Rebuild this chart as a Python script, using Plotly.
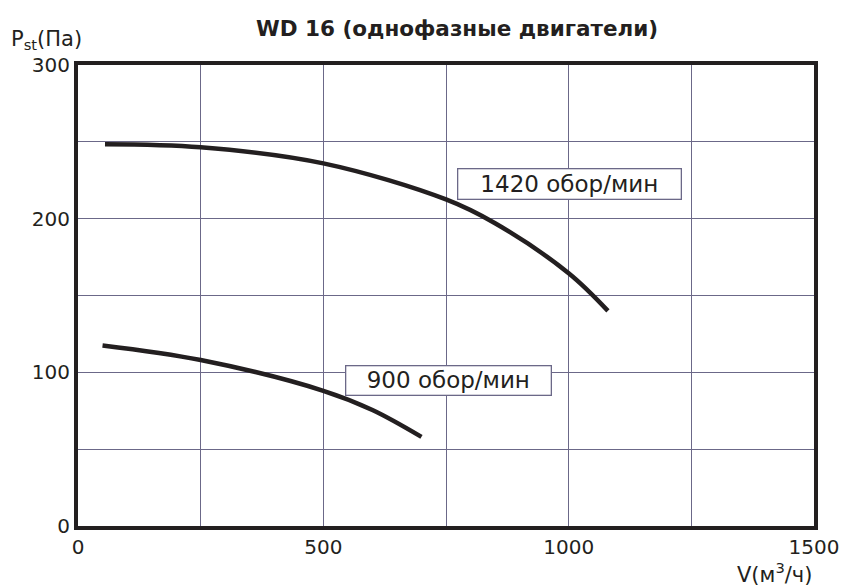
import plotly.graph_objects as go

# Data
x_1420 = [55, 250, 500, 750, 850, 1000, 1080]
y_1420 = [248.5, 246.5, 236, 212.5, 197, 164.5, 140]
x_900 = [50, 250, 500, 600, 700]
y_900 = [117.5, 108, 88, 75.5, 58]

x_ticks = [0, 500, 1000, 1500]
y_ticks = [0, 100, 200, 300]

title_text = "WD 16 (однофазные двигатели)"
label_1420 = "1420 обор/мин"
label_900 = "900 обор/мин"

FONT = "DejaVu Sans"
INK = "#231f20"
GRID = "#6b6888"

# page body adds an 8px offset; compensate
OFF = 8
PL, PR, PT, PB = 78, 820, 65, 526  # plot area in window pixels

fig = go.Figure()
for xs, ys in ((x_1420, y_1420), (x_900, y_900)):
    fig.add_trace(go.Scatter(x=xs, y=ys, mode="lines",
                             line=dict(color=INK, width=4.5, shape="spline", smoothing=1.0),
                             hoverinfo="skip", showlegend=False))

fig.update_layout(
    width=851 - OFF, height=587 - OFF,
    margin=dict(l=PL - OFF, r=851 - PR, t=PT - OFF, b=587 - PB, pad=0),
    paper_bgcolor="white", plot_bgcolor="white",
    font=dict(family=FONT, size=20, color=INK),
    showlegend=False,
    xaxis=dict(range=[0, 1500], tickvals=x_ticks, ticktext=[str(v) for v in x_ticks],
               showgrid=True, gridcolor=GRID, gridwidth=1.3,
               minor=dict(dtick=250, showgrid=True, gridcolor=GRID, gridwidth=1.3),
               showline=True, linecolor=INK, linewidth=4, mirror=True,
               ticks="", zeroline=False, tickfont=dict(size=20, family=FONT)),
    yaxis=dict(range=[0, 300], tickvals=y_ticks, ticktext=[str(v) for v in y_ticks],
               showgrid=True, gridcolor=GRID, gridwidth=1.3,
               minor=dict(dtick=50, showgrid=True, gridcolor=GRID, gridwidth=1.3),
               showline=True, linecolor=INK, linewidth=4, mirror=True,
               ticks="", zeroline=False, tickfont=dict(size=20, family=FONT)),
)

W = PR - PL
H = PB - PT


def fx(px):
    return (px - PL) / W


def fy(py):
    return (PB - py) / H


fig.add_annotation(text="<b>" + title_text + "</b>", xref="paper", yref="paper",
                   x=fx(460), y=fy(28), xanchor="center", yanchor="middle",
                   showarrow=False, font=dict(size=21.5, family=FONT, color=INK))
fig.add_annotation(text="P<sub>st</sub>(Па)", xref="paper", yref="paper",
                   x=fx(8), y=fy(40), xanchor="left", yanchor="middle",
                   showarrow=False, font=dict(size=21, family=FONT, color=INK))
fig.add_annotation(text="V(м<sup>3</sup>/ч)", xref="paper", yref="paper",
                   x=1, y=fy(573), xanchor="right", yanchor="middle",
                   showarrow=False, font=dict(size=21, family=FONT, color=INK))

fig.add_annotation(text=label_1420, xref="paper", yref="paper",
                   x=fx(574), y=fy(184), xanchor="center", yanchor="middle",
                   showarrow=False, bgcolor="white", bordercolor=GRID, borderwidth=1.3,
                   borderpad=1, width=220, height=27, font=dict(size=23, family=FONT, color=INK))
fig.add_annotation(text=label_900, xref="paper", yref="paper",
                   x=fx(452), y=fy(380), xanchor="center", yanchor="middle",
                   showarrow=False, bgcolor="white", bordercolor=GRID, borderwidth=1.3,
                   borderpad=1, width=202, height=26, font=dict(size=23, family=FONT, color=INK))

fig.write_html("out.html")
